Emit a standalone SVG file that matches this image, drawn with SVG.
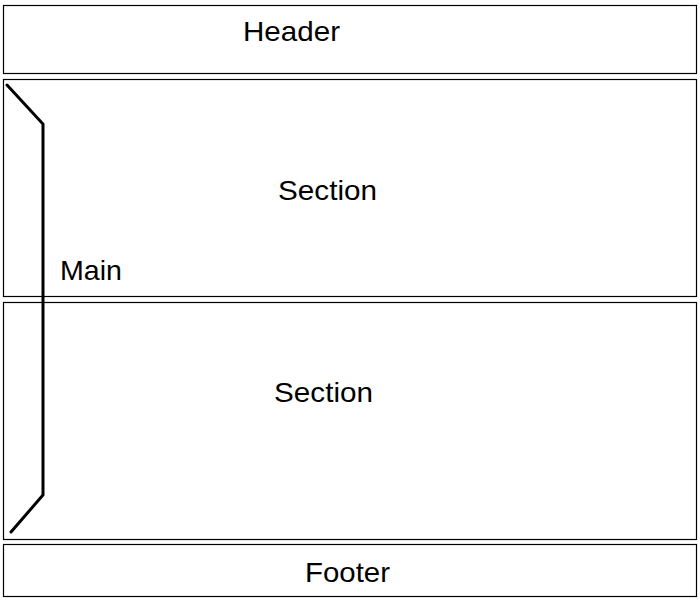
<svg xmlns="http://www.w3.org/2000/svg" width="700" height="600" viewBox="0 0 700 600">
<style>
.box{fill:#fff;stroke:#000;stroke-width:1.2}
.lbl{font-family:"Liberation Sans",Arial,sans-serif;font-size:28px;fill:#000}
.brace{fill:none;stroke:#000;stroke-width:3;stroke-linejoin:miter;stroke-linecap:round}
</style>
<rect width="700" height="600" fill="#fff"/>
<g id="header">
<rect class="box" x="3.5" y="5.5" width="693" height="68"/>
<text class="lbl" x="243" y="41" textLength="97" lengthAdjust="spacingAndGlyphs">Header</text>
</g>
<g id="section1">
<rect class="box" x="3.5" y="79.5" width="693" height="217"/>
<text class="lbl" x="278" y="200" textLength="99" lengthAdjust="spacingAndGlyphs">Section</text>
</g>
<g id="section2">
<rect class="box" x="3.5" y="302.5" width="693" height="237"/>
<text class="lbl" x="274" y="402" textLength="99" lengthAdjust="spacingAndGlyphs">Section</text>
</g>
<g id="footer">
<rect class="box" x="3.5" y="544.5" width="693" height="52"/>
<text class="lbl" x="305" y="582" textLength="85" lengthAdjust="spacingAndGlyphs">Footer</text>
</g>
<g id="connectors">
<polyline class="brace" points="7,85 43,124 43,495 11,532"/>
</g>
<g id="main">
<text class="lbl" x="60" y="280" textLength="62" lengthAdjust="spacingAndGlyphs">Main</text>
</g>
</svg>
